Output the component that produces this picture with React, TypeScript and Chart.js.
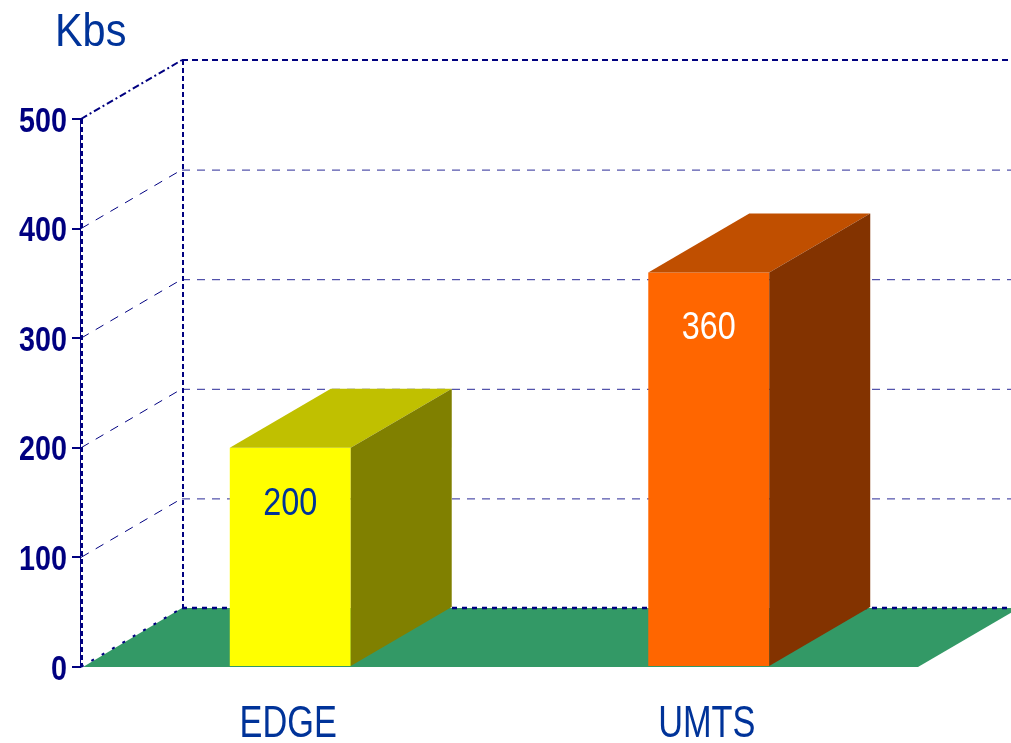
import React, { useEffect, useRef } from "react";
import { Chart, registerables } from "chart.js";

Chart.register(...registerables);

const categories = ["EDGE", "UMTS"];
const values = [200, 360];
const valueLabels = ["200", "360"];
const frontColors = ["#FFFF00", "#FF6600"];
const topColors = ["#C0C000", "#C04F00"];
const sideColors = ["#808000", "#833300"];
const labelColors = ["#003399", "#FFFFFF"];
const yMin = 0;
const yMax = 500;
const yStep = 100;
const unitLabel = "Kbs";

const FONT = "'Liberation Sans', Arial, sans-serif";
const NAVY = "#000080";
const BLUE = "#003399";
const DX = 101;
const DY = 59;

function narrowText(ctx: any, text: string, x: number, y: number, font: string, color: string, align: string, sx: number) {
  ctx.save();
  ctx.translate(x, y);
  ctx.scale(sx, 1);
  ctx.font = font;
  ctx.fillStyle = color;
  ctx.textAlign = align;
  ctx.textBaseline = "alphabetic";
  ctx.fillText(text, 0, 0);
  ctx.restore();
}

const threeD = {
  id: "threeD",
  beforeDatasetsDraw(chart: any) {
    const ctx = chart.ctx;
    const { left, right, top, bottom } = chart.chartArea;
    const ys = chart.scales.y;
    const W = chart.width;
    ctx.save();
    for (let v = yMin; v <= yMax; v += yStep) {
      const py = ys.getPixelForValue(v);
      if (v > yMin && v < yMax) {
        ctx.beginPath();
        ctx.strokeStyle = "#2a2a98";
        ctx.lineWidth = 1;
        ctx.setLineDash([8, 7]);
        ctx.moveTo(left + DX, py - DY + 0.5);
        ctx.lineTo(W, py - DY + 0.5);
        ctx.stroke();
        ctx.beginPath();
        ctx.strokeStyle = NAVY;
        ctx.setLineDash([9, 8]);
        ctx.moveTo(left, py);
        ctx.lineTo(left + DX, py - DY);
        ctx.stroke();
      } else if (v === yMax) {
        ctx.beginPath();
        ctx.strokeStyle = NAVY;
        ctx.lineWidth = 2;
        ctx.setLineDash([6, 4]);
        ctx.moveTo(left + DX, py - DY);
        ctx.lineTo(W, py - DY);
        ctx.stroke();
        ctx.beginPath();
        ctx.setLineDash([7, 3, 2, 3]);
        ctx.moveTo(left, py);
        ctx.lineTo(left + DX, py - DY);
        ctx.stroke();
      }
    }
    ctx.beginPath();
    ctx.strokeStyle = NAVY;
    ctx.lineWidth = 2;
    ctx.setLineDash([5, 3]);
    ctx.moveTo(left + DX + 1, top - DY);
    ctx.lineTo(left + DX + 1, bottom - DY);
    ctx.stroke();
    ctx.setLineDash([]);
    ctx.beginPath();
    ctx.fillStyle = "#339966";
    ctx.moveTo(left + 2, bottom);
    ctx.lineTo(right, bottom);
    ctx.lineTo(right + DX, bottom - DY);
    ctx.lineTo(left + DX, bottom - DY);
    ctx.closePath();
    ctx.fill();
    ctx.beginPath();
    ctx.strokeStyle = NAVY;
    ctx.lineWidth = 2.5;
    ctx.setLineDash([5, 5]);
    ctx.moveTo(left + DX, bottom - DY);
    ctx.lineTo(W, bottom - DY);
    ctx.stroke();
    ctx.beginPath();
    ctx.lineWidth = 2;
    ctx.setLineDash([3, 9]);
    ctx.moveTo(left, bottom);
    ctx.lineTo(left + DX, bottom - DY);
    ctx.stroke();
    ctx.beginPath();
    ctx.setLineDash([]);
    ctx.lineWidth = 1;
    ctx.moveTo(left - 0.5, top);
    ctx.lineTo(left - 0.5, bottom);
    ctx.stroke();
    ctx.beginPath();
    ctx.lineWidth = 2;
    ctx.setLineDash([5, 3]);
    ctx.moveTo(left + 1, top);
    ctx.lineTo(left + 1, bottom);
    ctx.stroke();
    ctx.restore();
  },
  afterDatasetsDraw(chart: any) {
    const ctx = chart.ctx;
    const meta = chart.getDatasetMeta(0);
    const xs = chart.scales.x;
    const ys = chart.scales.y;
    ctx.save();
    meta.data.forEach((bar: any, i: number) => {
      const { x, y, base, width } = bar.getProps(["x", "y", "base", "width"], true);
      const l = x - width / 2;
      const r = x + width / 2;
      ctx.beginPath();
      ctx.fillStyle = topColors[i];
      ctx.moveTo(l, y);
      ctx.lineTo(r, y);
      ctx.lineTo(r + DX, y - DY);
      ctx.lineTo(l + DX, y - DY);
      ctx.closePath();
      ctx.fill();
      ctx.beginPath();
      ctx.fillStyle = sideColors[i];
      ctx.moveTo(r, y);
      ctx.lineTo(r + DX, y - DY);
      ctx.lineTo(r + DX, base - DY);
      ctx.lineTo(r, base);
      ctx.closePath();
      ctx.fill();
      narrowText(ctx, valueLabels[i], x, y + 67, `39px ${FONT}`, labelColors[i], "center", 0.83);
    });
    // y tick labels
    ys.ticks.forEach((t: any, i: number) => {
      const py = ys.getPixelForTick(i);
      narrowText(ctx, String(t.value), chart.chartArea.left - 14, py + 12.5, `bold 35px ${FONT}`, NAVY, "right", 0.82);
    });
    // x tick labels
    xs.ticks.forEach((t: any, i: number) => {
      const px = xs.getPixelForTick(i);
      narrowText(ctx, categories[i], px - 2, 737, `44px ${FONT}`, BLUE, "center", 0.78);
    });
    narrowText(ctx, unitLabel, 55, 46, `46px ${FONT}`, BLUE, "left", 0.9);
    ctx.restore();
  },
};

export default function App() {
  const ref = useRef<HTMLCanvasElement>(null);
  useEffect(() => {
    document.body.style.margin = "0";
    const chart = new Chart(ref.current!, {
      type: "bar",
      data: {
        labels: categories,
        datasets: [
          {
            data: values,
            backgroundColor: frontColors,
            borderWidth: 0,
            categoryPercentage: 1,
            barPercentage: 0.289,
          },
        ],
      },
      options: {
        animation: false,
        responsive: false,
        layout: { padding: { top: 119, right: 93, left: 0, bottom: 0 } },
        plugins: { legend: { display: false }, tooltip: { enabled: false } },
        scales: {
          x: {
            grid: { display: false },
            border: { display: false },
            ticks: { color: "rgba(0,0,0,0)", font: { family: FONT, size: 20 } },
            afterFit: (s: any) => {
              s.height = 76;
            },
          },
          y: {
            min: yMin,
            max: yMax,
            ticks: {
              stepSize: yStep,
              color: "rgba(0,0,0,0)",
              font: { family: FONT, size: 20, weight: "bold" },
              padding: 5,
            },
            grid: { drawOnChartArea: false, drawTicks: true, tickLength: 9, color: NAVY, lineWidth: 2 },
            border: { display: false },
            afterFit: (s: any) => {
              s.width = 81;
            },
          },
        },
      },
      plugins: [threeD],
    });
    return () => chart.destroy();
  }, []);
  return (
    <div style={{ width: 1011, height: 743 }}>
      <canvas ref={ref} width={1011} height={743} />
    </div>
  );
}
